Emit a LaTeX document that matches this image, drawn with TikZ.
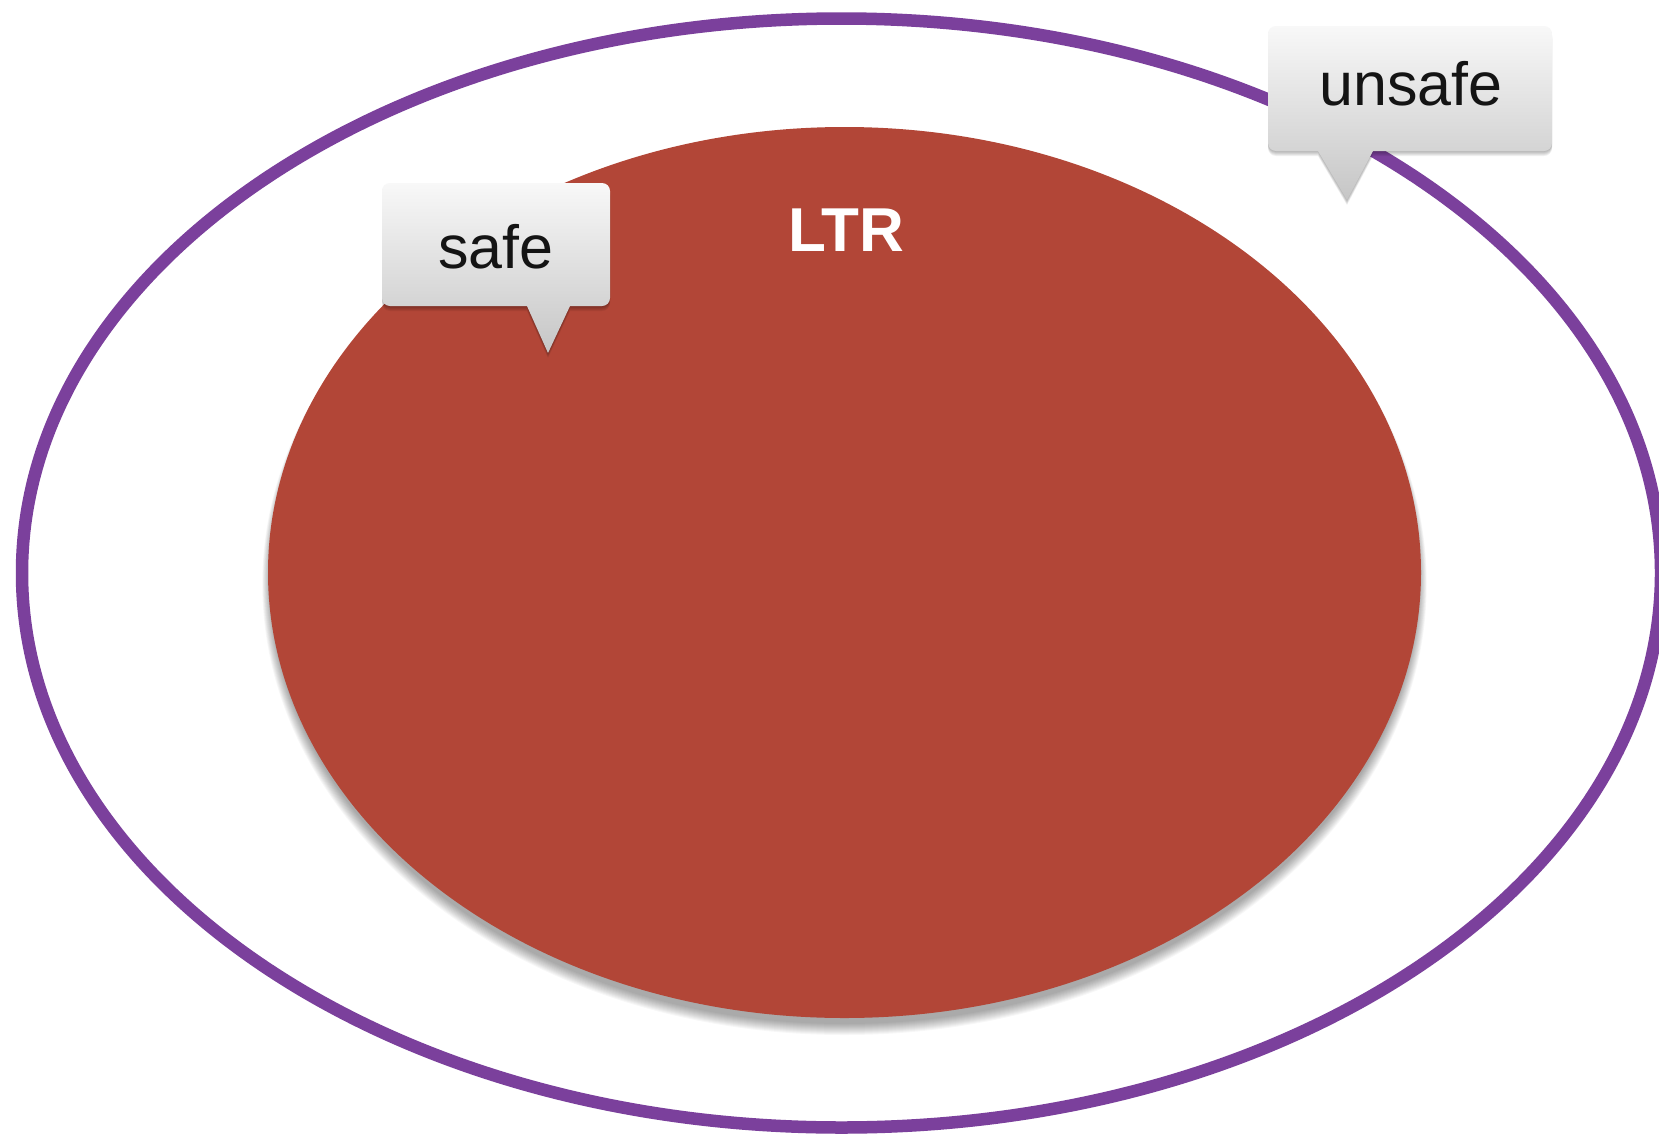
\documentclass[tikz,border=0pt]{standalone}
\usepackage{fontspec}
\setmainfont{Liberation Sans}
\definecolor{ringpurple}{HTML}{7B409C}
\definecolor{paperred}{HTML}{B24637}
\definecolor{bubbletop}{HTML}{F8F8F8}
\definecolor{bubblebottom}{HTML}{C6C6C6}
\newcommand\safeoutline{(382,245) [rounded corners=8pt] -- (382,183) -- (610,183) -- (610,306)
  [sharp corners] -- (570,306) -- (548,353) -- (527,306)
  [rounded corners=8pt] -- (382,306) -- cycle}
\newcommand\unsafeoutline{(1268,88) [rounded corners=8pt] -- (1268,26) -- (1552,26) -- (1552,151)
  [sharp corners] -- (1373,151) -- (1347,200) -- (1318,151)
  [rounded corners=8pt] -- (1268,151) -- cycle}
\begin{document}
\begin{tikzpicture}[x=1pt,y=-1pt,
  ring/.style={draw=ringpurple,line width=12.5pt},
  blob/.style={fill=paperred},
  haze/.style={fill=black,opacity=0.032},
  bubble/.style={top color=bubbletop,bottom color=bubblebottom},
  tagtext/.style={font=\fontsize{61}{70}\selectfont,text=black!92,inner sep=0pt,anchor=base},
  title/.style={font=\bfseries\fontsize{62}{70}\selectfont,text=white,inner sep=0pt,anchor=base},
]
\useasboundingbox (0,0) rectangle (1659,1135);
\fill[white] (0,0) rectangle (1659,1135);

% outer set
\draw[ring] (841.5,573) ellipse [x radius=819.5,y radius=554.5];

% soft shadow under the inner set
\foreach \k in {0,...,11}
  \fill[haze] (844.5,578.5+0.5*\k) ellipse [x radius=574.5+0.7*\k,y radius=445.5+0.5*\k];
\fill[blob] (844.5,572.5) ellipse [x radius=576.5,y radius=445.5];
\node[title] (ltr) at (846,251) {LTR};

% callout for the inner set: rounded box corners, sharp pointer
\foreach \k in {1,...,5}
  \fill[haze,opacity=0.06,yshift=-\k pt] \safeoutline;
\path[bubble] \safeoutline;
\node[tagtext] (safe) at (496,268) {safe};

% callout for the outer set
\foreach \k in {1,...,5}
  \fill[haze,opacity=0.06,yshift=-\k pt] \unsafeoutline;
\path[bubble] \unsafeoutline;
\node[tagtext] (unsafe) at (1411,105) {unsafe};
\end{tikzpicture}
\end{document}
